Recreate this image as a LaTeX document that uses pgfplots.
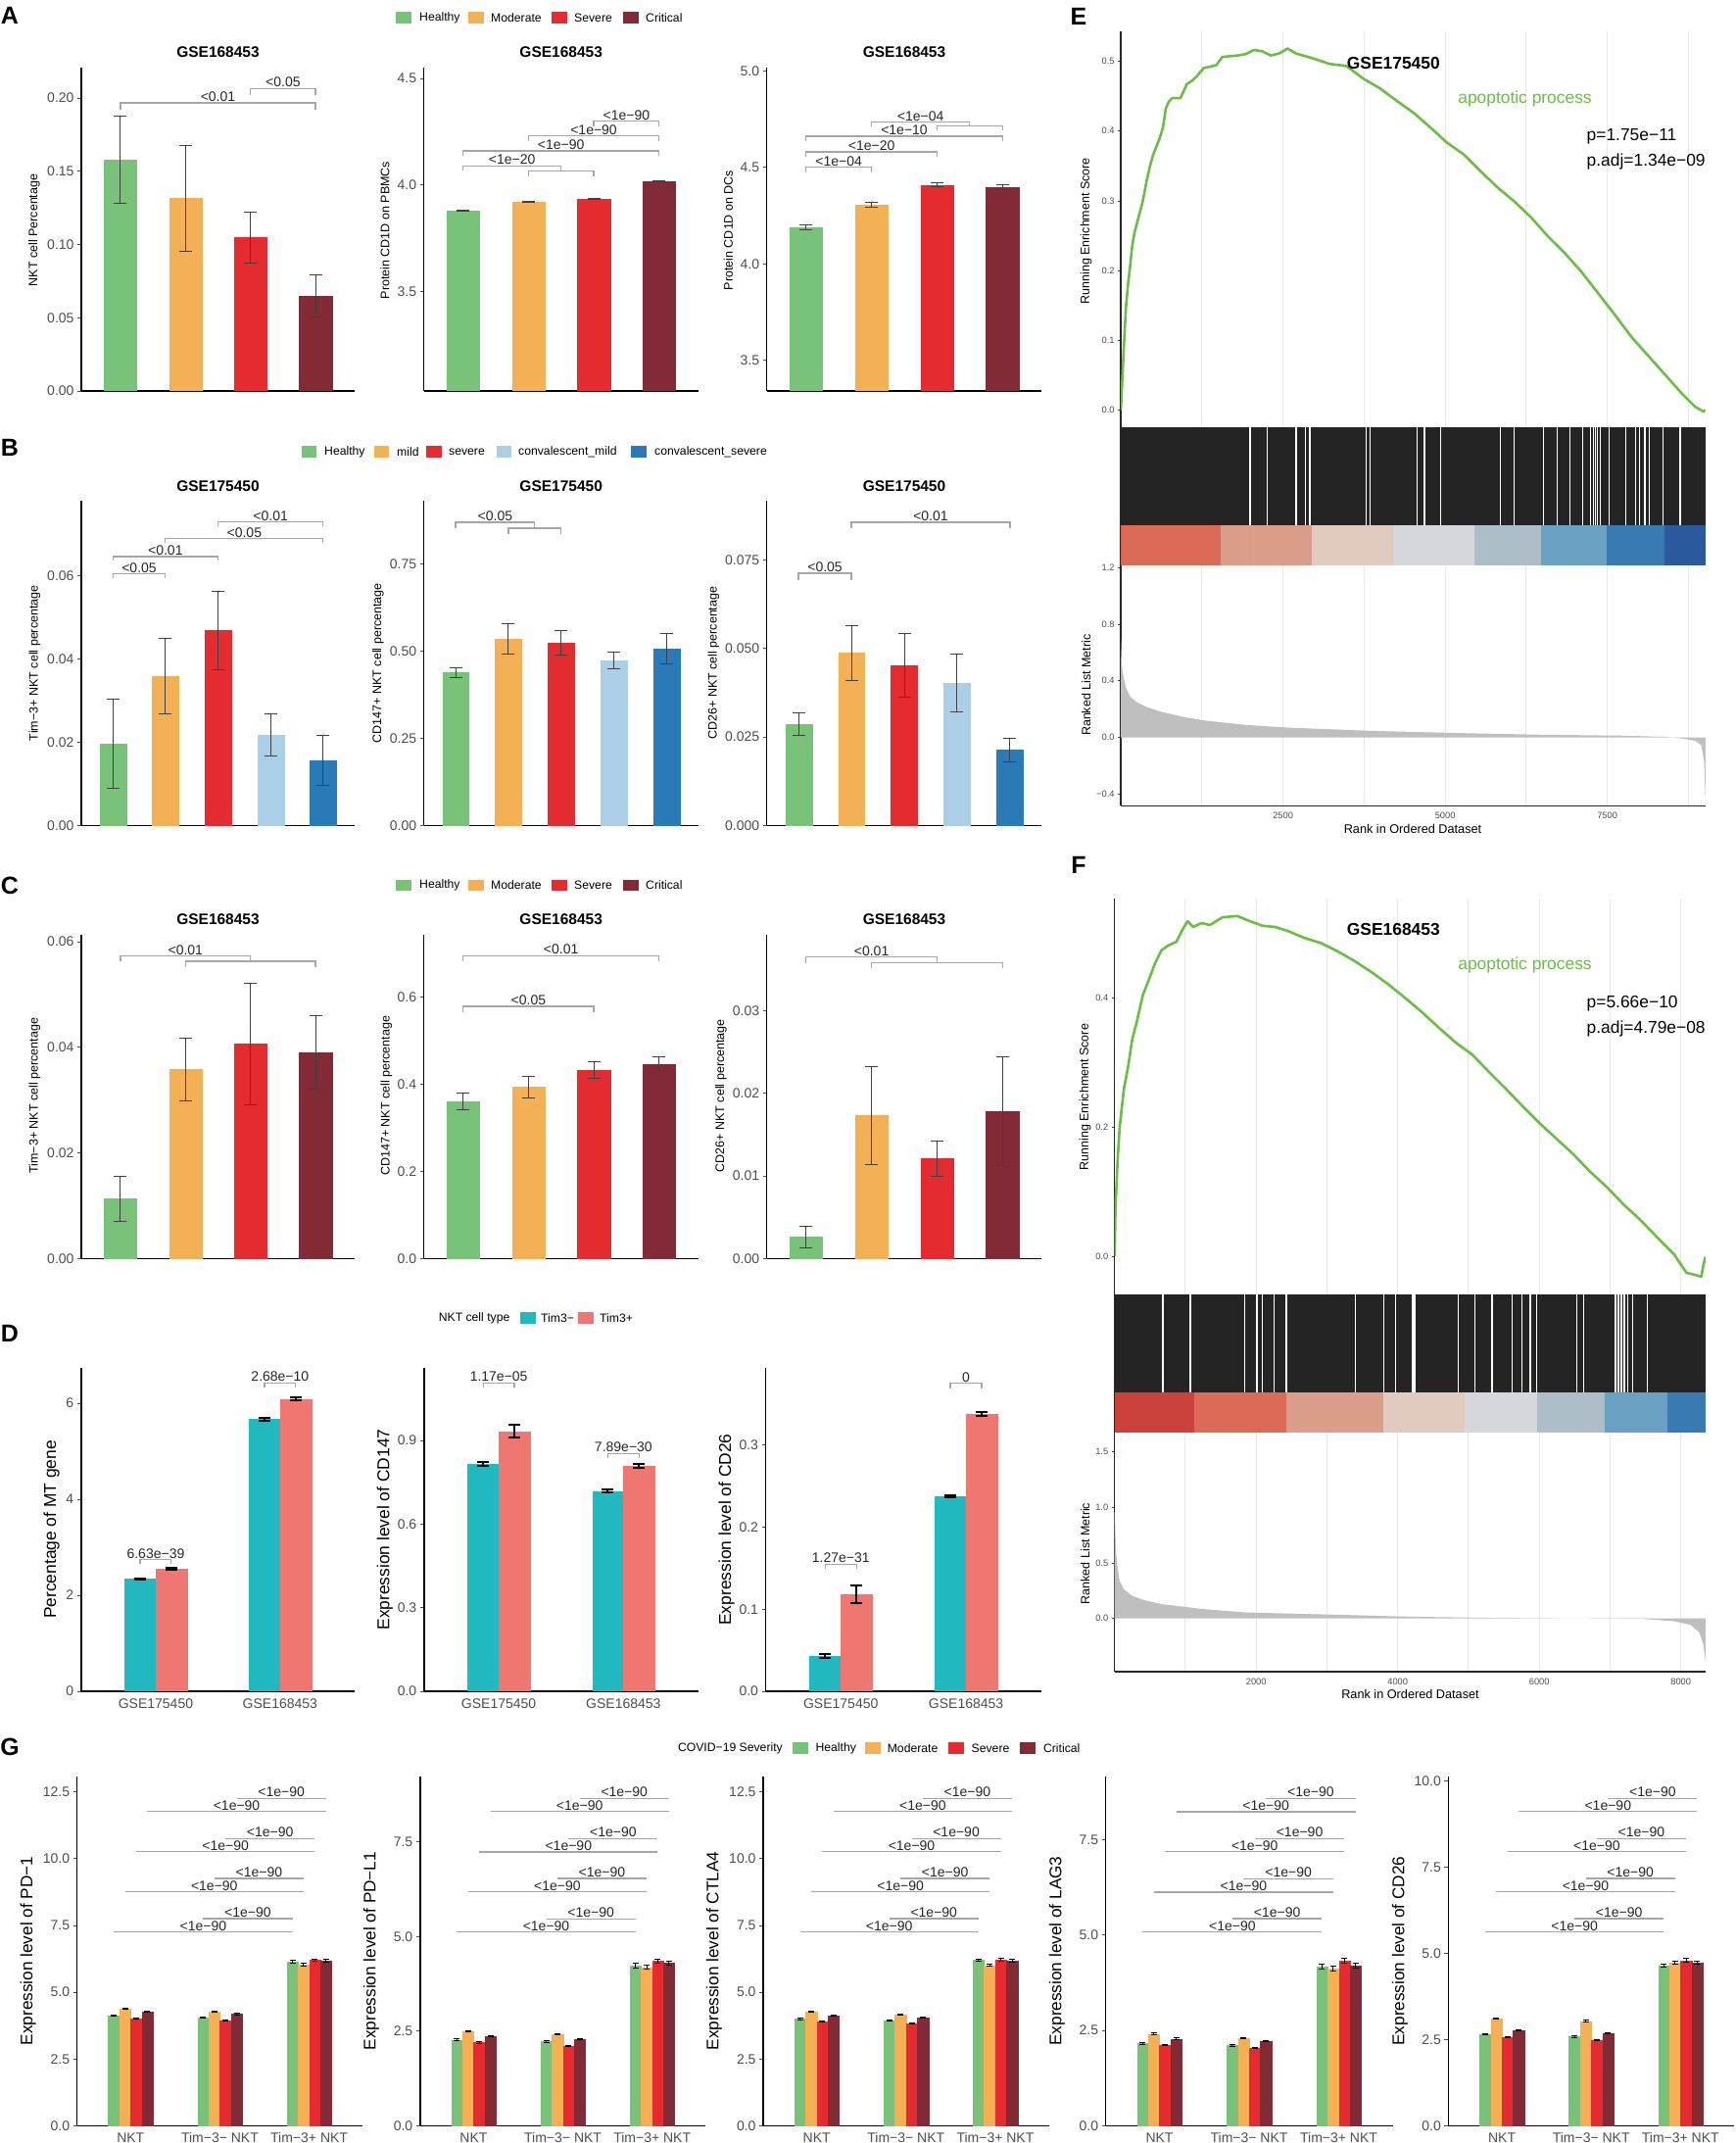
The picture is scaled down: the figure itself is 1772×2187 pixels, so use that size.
\documentclass[border=0pt]{standalone}
\usepackage{pgfplots}
\pgfplotsset{compat=1.18}
\usepackage{fontspec}
\setmainfont{Liberation Sans}
\newcommand{\fs}[1]{\fontsize{#1}{#1}\selectfont}
\definecolor{cH}{HTML}{78C279}
\definecolor{cM}{HTML}{F4B054}
\definecolor{cS}{HTML}{E32B30}
\definecolor{cC}{HTML}{832A37}
\definecolor{cCM}{HTML}{AACFE6}
\definecolor{cCS}{HTML}{2A7AB8}
\definecolor{cTm}{HTML}{22B8BF}
\definecolor{cTp}{HTML}{EE7772}
\definecolor{tickg}{HTML}{4D4D4D}
\definecolor{brkg}{HTML}{A6A6A6}
\definecolor{esg}{HTML}{6ABE45}
\definecolor{b1}{HTML}{DA6450}
\definecolor{b2}{HTML}{D99A85}
\definecolor{b3}{HTML}{E0C8BC}
\definecolor{b4}{HTML}{D2D5DB}
\definecolor{b5}{HTML}{AABBC7}
\definecolor{b6}{HTML}{649DC0}
\definecolor{b7}{HTML}{3176AD}
\definecolor{b8}{HTML}{22529A}
\definecolor{b0}{HTML}{C93A35}
\pgfplotsset{
 bx/.style={anchor=south west, scale only axis, clip mode=individual,
  axis x line*=bottom, axis y line*=left,
  axis line style={line width=1.5pt, black},
  tick label style={font=\fs{14}, text=tickg},
  tick align=outside, major tick length=4pt, scaled y ticks=false,
  ytick style={tickg, line width=0.8pt}, xtick style={draw=none},
  xtick=\empty, xmin=0.4, xmax=4.6, ymin=0,
  error bars/error bar style={line width=1pt, black!75},
  error bars/error mark options={rotate=90, line width=1pt, mark size=6.5pt, black!75}},
 gs/.style={anchor=south west, scale only axis,
  axis x line*=bottom, axis y line*=left,
  axis line style={line width=1.3pt, black!85},
  tick label style={font=\fs{9.3}, text=tickg},
  tick align=outside, major tick length=3pt, minor tick length=0pt,
  scaled y ticks=false, scaled x ticks=false,
  ytick style={tickg, line width=0.6pt}, xtick style={draw=none},
  grid style={black!9, line width=1pt}, xmajorgrids},
}
\tikzset{sig/.style={font=\fs{14}, text=black!85, anchor=base, inner sep=0pt, yshift=1.5pt}}
\newcommand{\cb}[4]{\addplot[ybar, bar width=0.5, bar shift=0pt, fill=#1, draw=#1, line width=0.1pt, error bars/.cd, y dir=both, y explicit] coordinates {(#2,#3) +- (0,#4)};}
\newcommand{\db}[4]{\addplot[ybar, bar width=0.25, bar shift=0pt, fill=#1, draw=#1, line width=0.1pt, error bars/.cd, y dir=both, y explicit, error bar style={line width=2pt, black}, error mark options={rotate=90, line width=2pt, mark size=6pt, black}] coordinates {(#2,#3) +- (0,#4)};}
\newcommand{\gb}[4]{\addplot[ybar, bar width=0.125, bar shift=0pt, fill=#1, draw=#1, line width=0.1pt, error bars/.cd, y dir=both, y explicit, error bar style={line width=1pt, black}, error mark options={rotate=90, line width=1pt, mark size=3pt, black}] coordinates {(#2,#3) +- (0,#4)};}
\newcommand{\gA}[5]{\gb{cH}{0.8125}{#1}{#5}\gb{cM}{0.9375}{#2}{#5}\gb{cS}{1.0625}{#3}{#5}\gb{cC}{1.1875}{#4}{#5}}
\newcommand{\gB}[5]{\gb{cH}{1.8125}{#1}{#5}\gb{cM}{1.9375}{#2}{#5}\gb{cS}{2.0625}{#3}{#5}\gb{cC}{2.1875}{#4}{#5}}
\newcommand{\gC}[5]{\gb{cH}{2.8125}{#1}{#5}\gb{cM}{2.9375}{#2}{#5}\gb{cS}{3.0625}{#3}{#5}\gb{cC}{3.1875}{#4}{#5}}
\newcommand{\brk}[4]{\draw[brkg, line width=1.3pt] (axis cs:#1,#4) -- (axis cs:#1,#3) -- (axis cs:#2,#3) -- (axis cs:#2,#4);}
\newcommand{\lab}[3]{\node[sig] at (axis cs:#1,#2) {#3};}
\newcommand{\sigl}[4]{\draw[brkg, line width=1.3pt] (axis cs:#1,#3) -- (axis cs:#2,#3); \node[sig] at (axis cs:#4,#3) {<1e−90};}
\newcommand{\gsig}[8]{\sigl{0.8125}{2.8125}{#1}{1.8125}\sigl{1.8125}{2.8125}{#2}{2.3125}\sigl{0.9375}{2.9375}{#3}{1.9375}\sigl{1.9375}{2.9375}{#4}{2.4375}\sigl{1.0625}{3.0625}{#5}{2.0625}\sigl{2.0625}{3.0625}{#6}{2.5625}\sigl{1.1875}{3.1875}{#7}{2.1875}\sigl{2.1875}{3.1875}{#8}{2.6875}}
\newcommand{\seg}[3]{\addplot[fill=#1, draw=none, fill opacity=0.96] coordinates {(#2,0)(#2,0.29)(#3,0.29)(#3,0)} -- cycle;}
\newcommand{\lgi}[5]{\fill[#3] (#1,#2-5.65) rectangle ++(15.7,11.3); \node[anchor=west, font=\fs{12.2}, inner sep=0pt] at (#4,#2) {#5};}
\newcommand{\yl}[4]{\node[rotate=90, font=\fs{#1}] at (#2,#3) {#4};}
\begin{document}
\begin{tikzpicture}[x=1pt,y=1pt]
\useasboundingbox (0,0) rectangle (1772,2187);
% panel letters
\node[font=\bfseries\fs{25}] at (10,2171) {A};
\node[font=\bfseries\fs{25}] at (10,1730.5) {B};
\node[font=\bfseries\fs{25}] at (10,1283) {C};
\node[font=\bfseries\fs{25}] at (10,826) {D};
\node[font=\bfseries\fs{25}] at (10,404) {G};
\node[font=\bfseries\fs{25}] at (1101,2170.5) {E};
\node[font=\bfseries\fs{25}] at (1101,1304.4) {F};
% legends
\lgi{404}{2169}{cH}{428}{Healthy}\lgi{478}{2169}{cM}{501}{Moderate}\lgi{563}{2169}{cS}{586}{Severe}\lgi{636}{2169}{cC}{659}{Critical}
\lgi{404}{1283.7}{cH}{428}{Healthy}\lgi{478}{1283.7}{cM}{501}{Moderate}\lgi{563}{1283.7}{cS}{586}{Severe}\lgi{636}{1283.7}{cC}{659}{Critical}
\lgi{307.5}{1726}{cH}{331}{Healthy}\lgi{381.6}{1726}{cM}{405}{mild}\lgi{435}{1726}{cS}{458}{severe}\lgi{506.7}{1726}{cCM}{529}{convalescent\_mild}\lgi{644.2}{1726}{cCS}{668}{convalescent\_severe}
\node[anchor=west, font=\fs{12.2}, inner sep=0pt] at (447.6,842) {NKT cell type};
\lgi{531}{842}{cTm}{552}{Tim3−}\lgi{590}{842}{cTp}{612}{Tim3+}
\node[anchor=west, font=\fs{12.2}, inner sep=0pt] at (691.8,403) {COVID−19 Severity};
\lgi{809.4}{403}{cH}{832.4}{Healthy}\lgi{882.8}{403}{cM}{905.6}{Moderate}\lgi{968}{403}{cS}{991.5}{Severe}\lgi{1041}{403}{cC}{1064.9}{Critical}
% titles
\foreach \xx in {222.5,572.7,923}{\node[font=\bfseries\fs{15.5}] at (\xx,2133.7) {GSE168453};}
\foreach \xx in {222.5,572.7,923}{\node[font=\bfseries\fs{15.5}] at (\xx,1691.3) {GSE175450};}
\foreach \xx in {222.5,572.7,923}{\node[font=\bfseries\fs{15.5}] at (\xx,1248.7) {GSE168453};}
% ===== A =====
\begin{axis}[bx, at={(83pt,1788pt)}, width=279pt, height=330pt, ymax=0.2207, ytick={0,0.05,0.1,0.15,0.2}, yticklabels={0.00,0.05,0.10,0.15,0.20}]
\cb{cH}{1}{0.1577}{0.0297}\cb{cM}{2}{0.1316}{0.036}\cb{cS}{3}{0.1048}{0.0173}\cb{cC}{4}{0.0647}{0.0144}
\brk{1}{4}{0.1967}{0.1922}\lab{2.5}{0.1967}{<0.01}
\brk{3}{4}{0.2065}{0.2022}\lab{3.5}{0.2065}{<0.05}
\end{axis}
\begin{axis}[bx, at={(432.7pt,1788pt)}, width=280pt, height=330pt, ymin=3.034, ymax=4.551, ytick={3.5,4,4.5}, yticklabels={3.5,4.0,4.5}]
\cb{cH}{1}{3.880}{0.003}\cb{cM}{2}{3.923}{0.002}\cb{cS}{3}{3.934}{0.003}\cb{cC}{4}{4.017}{0.002}
\brk{3}{4}{4.300}{4.277}\lab{3.5}{4.300}{<1e−90}
\brk{2}{4}{4.230}{4.206}\lab{3}{4.230}{<1e−90}
\brk{1}{4}{4.160}{4.137}\lab{2.5}{4.160}{<1e−90}
\brk{1}{2.5}{4.090}{4.067}\lab{1.75}{4.090}{<1e−20}
\brk{2}{3}{4.067}{4.041}
\end{axis}
\begin{axis}[bx, at={(782.7pt,1788pt)}, width=280.6pt, height=330pt, ymin=3.342, ymax=5.017, ytick={3.5,4,4.5,5}, yticklabels={3.5,4.0,4.5,5.0}]
\cb{cH}{1}{4.188}{0.013}\cb{cM}{2}{4.308}{0.012}\cb{cS}{3}{4.41}{0.012}\cb{cC}{4}{4.398}{0.011}
\brk{1}{2}{4.50}{4.474}\lab{1.5}{4.50}{<1e−04}
\brk{1}{3}{4.581}{4.555}\lab{2}{4.581}{<1e−20}
\brk{1}{4}{4.662}{4.637}\lab{2.5}{4.662}{<1e−10}
\brk{3}{4}{4.714}{4.69}
\brk{2}{3.5}{4.735}{4.714}\lab{2.75}{4.735}{<1e−04}
\end{axis}
% ===== B =====
\begin{axis}[bx, at={(83pt,1344.7pt)}, width=279pt, height=331.3pt, xmax=5.6, ymax=0.078, ytick={0,0.02,0.04,0.06}, yticklabels={0.00,0.02,0.04,0.06}]
\cb{cH}{1}{0.0197}{0.0107}\cb{cM}{2}{0.0359}{0.009}\cb{cS}{3}{0.0468}{0.0093}\cb{cCM}{4}{0.0218}{0.0051}\cb{cCS}{5}{0.0157}{0.006}
\brk{1}{2}{0.0604}{0.0594}\lab{1.5}{0.0604}{<0.05}
\brk{1}{3}{0.0646}{0.0636}\lab{2}{0.0646}{<0.01}
\brk{2}{5}{0.0689}{0.0678}\lab{3.5}{0.0689}{<0.05}
\brk{3}{5}{0.0729}{0.0718}\lab{4}{0.0729}{<0.01}
\end{axis}
\begin{axis}[bx, at={(432.7pt,1344.7pt)}, width=280pt, height=331.3pt, xmax=5.6, ymax=0.9306, ytick={0,0.25,0.5,0.75}, yticklabels={0.00,0.25,0.50,0.75}]
\cb{cH}{1}{0.438}{0.015}\cb{cM}{2}{0.535}{0.0435}\cb{cS}{3}{0.524}{0.035}\cb{cCM}{4}{0.473}{0.024}\cb{cCS}{5}{0.506}{0.044}
\brk{1}{2.5}{0.869}{0.852}\lab{1.75}{0.869}{<0.05}
\brk{2}{3}{0.852}{0.834}
\end{axis}
\begin{axis}[bx, at={(782.7pt,1344.7pt)}, width=280.6pt, height=331.3pt, xmax=5.6, ymax=0.0918, ytick={0,0.025,0.05,0.075}, yticklabels={0.000,0.025,0.050,0.075}]
\cb{cH}{1}{0.0287}{0.0032}\cb{cM}{2}{0.0488}{0.0078}\cb{cS}{3}{0.0453}{0.009}\cb{cCM}{4}{0.0402}{0.0081}\cb{cCS}{5}{0.0213}{0.0034}
\brk{1}{2}{0.0713}{0.0694}\lab{1.5}{0.0713}{<0.05}
\brk{2}{5}{0.0857}{0.0841}\lab{3.5}{0.0857}{<0.01}
\end{axis}
% ===== C =====
\begin{axis}[bx, at={(83pt,902.7pt)}, width=279pt, height=330.3pt, ymax=0.0613, ytick={0,0.02,0.04,0.06}, yticklabels={0.00,0.02,0.04,0.06}]
\cb{cH}{1}{0.0113}{0.0043}\cb{cM}{2}{0.0358}{0.006}\cb{cS}{3}{0.0406}{0.0115}\cb{cC}{4}{0.0390}{0.0069}
\brk{1}{3}{0.0573}{0.0563}\lab{2}{0.0573}{<0.01}
\brk{2}{4}{0.0563}{0.0552}
\end{axis}
\begin{axis}[bx, at={(432.7pt,902.7pt)}, width=280pt, height=330.3pt, ymax=0.742, ytick={0,0.2,0.4,0.6}, yticklabels={0.0,0.2,0.4,0.6}]
\cb{cH}{1}{0.360}{0.0195}\cb{cM}{2}{0.393}{0.0245}\cb{cS}{3}{0.432}{0.0185}\cb{cC}{4}{0.446}{0.0165}
\brk{1}{4}{0.694}{0.681}\lab{2.5}{0.694}{<0.01}
\brk{1}{3}{0.578}{0.564}\lab{2}{0.578}{<0.05}
\end{axis}
\begin{axis}[bx, at={(782.7pt,902.7pt)}, width=280.6pt, height=330.3pt, ymax=0.0392, ytick={0,0.01,0.02,0.03}, yticklabels={0.00,0.01,0.02,0.03}]
\cb{cH}{1}{0.0026}{0.0013}\cb{cM}{2}{0.0173}{0.0059}\cb{cS}{3}{0.0121}{0.0021}\cb{cC}{4}{0.0178}{0.0066}
\brk{1}{3}{0.0365}{0.0358}\lab{2}{0.0365}{<0.01}
\brk{2}{4}{0.0358}{0.0352}
\end{axis}
% ===== D =====
\begin{axis}[bx, at={(82.8pt,461pt)}, width=279.2pt, height=330pt, xmax=2.6, xtick={1,2}, xticklabels={GSE175450,GSE168453}, ymax=6.735, ytick={0,2,4,6}, yticklabels={0,2,4,6}]
\db{cTm}{0.875}{2.341}{0.01}\db{cTp}{1.125}{2.551}{0.03}\db{cTm}{1.875}{5.667}{0.03}\db{cTp}{2.125}{6.088}{0.03}
\brk{0.875}{1.125}{2.741}{2.653}\lab{1}{2.741}{6.63e−39}
\brk{1.875}{2.125}{6.422}{6.333}\lab{2}{6.422}{2.68e−10}
\end{axis}
\begin{axis}[bx, at={(432.8pt,461pt)}, width=279.9pt, height=330pt, xmax=2.6, xtick={1,2}, xticklabels={GSE175450,GSE168453}, ymax=1.160, ytick={0,0.3,0.6,0.9}, yticklabels={0.0,0.3,0.6,0.9}]
\db{cTm}{0.875}{0.816}{0.006}\db{cTp}{1.125}{0.933}{0.024}\db{cTm}{1.875}{0.718}{0.006}\db{cTp}{2.125}{0.808}{0.007}
\brk{0.875}{1.125}{1.1065}{1.091}\lab{1}{1.1065}{1.17e−05}
\brk{1.875}{2.125}{0.8534}{0.838}\lab{2}{0.8534}{7.89e−30}
\end{axis}
\begin{axis}[bx, at={(781.5pt,461pt)}, width=281.3pt, height=330pt, xmax=2.6, xtick={1,2}, xticklabels={GSE175450,GSE168453}, ymax=0.394, ytick={0,0.1,0.2,0.3}, yticklabels={0.0,0.1,0.2,0.3}]
\db{cTm}{0.875}{0.043}{0.002}\db{cTp}{1.125}{0.118}{0.0105}\db{cTm}{1.875}{0.237}{0.0012}\db{cTp}{2.125}{0.338}{0.002}
\brk{0.875}{1.125}{0.155}{0.1493}\lab{1}{0.155}{1.27e−31}
\brk{1.875}{2.125}{0.3751}{0.3695}\lab{2}{0.3751}{0}
\end{axis}
% ===== G =====
\begin{axis}[bx, at={(78.6pt,17.7pt)}, width=291.7pt, height=356.6pt, xmax=3.6, xtick={1,2,3}, xticklabels={NKT,Tim−3− NKT,Tim−3+ NKT}, ymax=13.09, ytick={0,2.5,5,7.5,10,12.5}, yticklabels={0.0,2.5,5.0,7.5,10.0,12.5}]
\gA{4.13}{4.38}{4.01}{4.26}{0.025}\gB{4.06}{4.28}{3.94}{4.18}{0.025}\gC{6.13}{6.03}{6.20}{6.18}{0.05}
\gsig{7.26}{7.76}{8.76}{9.26}{10.26}{10.76}{11.77}{12.26}
\end{axis}
\begin{axis}[bx, at={(428.8pt,17.7pt)}, width=291.6pt, height=356.6pt, xmax=3.6, xtick={1,2,3}, xticklabels={NKT,Tim−3− NKT,Tim−3+ NKT}, ymax=9.24, ytick={0,2.5,5,7.5}, yticklabels={0.0,2.5,5.0,7.5}]
\gA{2.27}{2.50}{2.20}{2.36}{0.02}\gB{2.23}{2.42}{2.11}{2.29}{0.02}\gC{4.23}{4.19}{4.35}{4.30}{0.06}
\gsig{5.12}{5.47}{6.18}{6.54}{7.24}{7.59}{8.31}{8.65}
\end{axis}
\begin{axis}[bx, at={(779pt,17.7pt)}, width=291.6pt, height=356.6pt, xmax=3.6, xtick={1,2,3}, xticklabels={NKT,Tim−3− NKT,Tim−3+ NKT}, ymax=13.09, ytick={0,2.5,5,7.5,10,12.5}, yticklabels={0.0,2.5,5.0,7.5,10.0,12.5}]
\gA{4.00}{4.26}{3.90}{4.12}{0.025}\gB{3.94}{4.17}{3.83}{4.04}{0.025}\gC{6.20}{6.01}{6.22}{6.18}{0.05}
\gsig{7.26}{7.76}{8.76}{9.26}{10.26}{10.76}{11.77}{12.26}
\end{axis}
\begin{axis}[bx, at={(1128.6pt,17.7pt)}, width=292.9pt, height=356.6pt, xmax=3.6, xtick={1,2,3}, xticklabels={NKT,Tim−3− NKT,Tim−3+ NKT}, ymax=9.17, ytick={0,2.5,5,7.5}, yticklabels={0.0,2.5,5.0,7.5}]
\gA{2.16}{2.41}{2.12}{2.28}{0.02}\gB{2.11}{2.30}{2.04}{2.22}{0.02}\gC{4.18}{4.13}{4.32}{4.20}{0.06}
\gsig{5.08}{5.43}{6.13}{6.48}{7.19}{7.53}{8.24}{8.59}
\end{axis}
\begin{axis}[bx, at={(1478.4pt,17.7pt)}, width=291.6pt, height=356.6pt, xmax=3.6, xtick={1,2,3}, xticklabels={NKT,Tim−3− NKT,Tim−3+ NKT}, ymax=10.13, ytick={0,2.5,5,7.5,10}, yticklabels={0.0,2.5,5.0,7.5,10.0}]
\gA{2.65}{3.10}{2.56}{2.76}{0.02}\gB{2.58}{3.03}{2.48}{2.68}{0.02}\gC{4.64}{4.73}{4.79}{4.72}{0.05}
\gsig{5.61}{6.00}{6.78}{7.17}{7.94}{8.32}{9.11}{9.49}
\end{axis}
% ===== E =====
\begin{axis}[gs, at={(1144.1pt,1751.4pt)}, width=596.7pt, height=403.4pt, xmin=0, xmax=9014, ymin=-0.024, ymax=0.5424, ytick={0,0.1,0.2,0.3,0.4,0.5}, yticklabels={0.0,0.1,0.2,0.3,0.4,0.5}, xtick={1250,2500,...,8750}, xticklabel={}, x axis line style={draw=none}]
\addplot[esg, line width=2.6pt, no marks, line join=round] coordinates {(0,0.000)(20,0.040)(45,0.089)(78,0.147)(110,0.180)(142,0.206)(175,0.235)(207,0.253)(240,0.265)(272,0.276)(337,0.299)(401,0.330)(450,0.350)(499,0.366)(596,0.389)(650,0.405)(693,0.432)(740,0.442)(790,0.447)(919,0.447)(1017,0.467)(1100,0.472)(1178,0.479)(1276,0.490)(1470,0.494)(1567,0.506)(1794,0.508)(1923,0.510)(2053,0.516)(2182,0.514)(2312,0.508)(2441,0.511)(2571,0.518)(2700,0.511)(2959,0.504)(3218,0.496)(3477,0.493)(3736,0.475)(3995,0.461)(4254,0.443)(4513,0.426)(4772,0.405)(5031,0.383)(5290,0.366)(5549,0.342)(5808,0.319)(6067,0.299)(6326,0.276)(6585,0.249)(6844,0.225)(7103,0.198)(7362,0.167)(7621,0.136)(7880,0.104)(8139,0.077)(8398,0.050)(8657,0.023)(8851,0.005)(8981,-0.002)(9013,0.000)};
\end{axis}
\begin{axis}[anchor=south west, scale only axis, at={(1144.1pt,1609.9pt)}, width=596.7pt, height=141.5pt, xmin=0, xmax=9014, ymin=0, ymax=1, axis x line=none, axis y line*=left, ytick=\empty, axis line style={line width=1.3pt, black!85}]
\addplot[fill=black!86, draw=none] coordinates {(0,0.29)(0,1)(9014,1)(9014,0.29)} -- cycle;
\addplot[white, line width=1.4pt, ycomb, no marks] coordinates {(1994,1)(2260,1)(2700,1)(2849,1)(2914,1)(3781,1)(3846,1)(4571,1)(4681,1)(4927,1)(5853,1)(6067,1)(6514,1)(6727,1)(6922,1)(7122,1)(7245,1)(7290,1)(7316,1)(7348,1)(7394,1)(7530,1)(7782,1)(7938,1)(7996,1)(8081,1)(8152,1)(8359,1)(8625,1)};
\seg{b1}{0}{1535}\seg{b2}{1535}{2940}\seg{b3}{2940}{4202}\seg{b4}{4202}{5458}\seg{b5}{5458}{6481}\seg{b6}{6481}{7492}\seg{b7}{7492}{8385}\seg{b8}{8385}{9014}
\end{axis}
\begin{axis}[gs, at={(1144.1pt,1364.6pt)}, width=596.7pt, height=245.3pt, xmin=0, xmax=9014, ymin=-0.484, ymax=1.2155, ytick={-0.4,0,0.4,0.8,1.2}, yticklabels={−0.4,0.0,0.4,0.8,1.2}, xtick={2500,5000,7500}, xticklabels={2500,5000,7500}, minor xtick={1250,3750,6250,8750}, xminorgrids, minor grid style={black!9, line width=1pt}]
\addplot[fill=gray!50, draw=none] coordinates {(0,0)(0,0.70)(13,0.52)(32,0.45)(78,0.35)(142,0.29)(240,0.25)(369,0.22)(628,0.18)(952,0.146)(1276,0.12)(1923,0.088)(2571,0.069)(3866,0.046)(5161,0.031)(6456,0.019)(7750,0.012)(8398,0.004)(8657,-0.008)(8851,-0.023)(8949,-0.054)(8994,-0.17)(9013,-0.41)(9013,0)} -- cycle;
\end{axis}
% ===== F =====
\begin{axis}[gs, at={(1137.7pt,866.4pt)}, width=603.1pt, height=404pt, xmin=0, xmax=8348, ymin=-0.0588, ymax=0.5547, ytick={0,0.2,0.4}, yticklabels={0.0,0.2,0.4}, xtick={1000,2000,...,8000}, xticklabel={}, x axis line style={draw=none}]
\addplot[esg, line width=2.6pt, no marks, line join=round] coordinates {(0,0)(12,0.072)(42,0.148)(71,0.199)(131,0.259)(190,0.293)(249,0.336)(309,0.361)(398,0.404)(487,0.429)(576,0.455)(664,0.474)(753,0.481)(872,0.487)(961,0.506)(1032,0.519)(1109,0.510)(1228,0.516)(1347,0.513)(1525,0.525)(1732,0.527)(1910,0.519)(2088,0.512)(2266,0.510)(2444,0.504)(2682,0.493)(2919,0.485)(3156,0.472)(3394,0.457)(3631,0.440)(3868,0.421)(4106,0.400)(4343,0.378)(4580,0.354)(4818,0.331)(5055,0.312)(5292,0.285)(5530,0.259)(5767,0.232)(6004,0.206)(6242,0.182)(6479,0.158)(6716,0.131)(6954,0.107)(7191,0.080)(7428,0.056)(7666,0.029)(7903,0.003)(8081,-0.026)(8199,-0.029)(8288,-0.032)(8318,-0.015)(8348,-0.001)};
\end{axis}
\begin{axis}[anchor=south west, scale only axis, at={(1137.7pt,725pt)}, width=603.1pt, height=141.4pt, xmin=0, xmax=8348, ymin=0, ymax=1, axis x line=none, axis y line*=left, ytick=\empty, axis line style={line width=1.3pt, black!85}]
\addplot[fill=black!86, draw=none] coordinates {(0,0.29)(0,1)(8348,1)(8348,0.29)} -- cycle;
\addplot[white, line width=1.4pt, ycomb, no marks] coordinates {(682,1)(1068,1)(1834,1)(2011,1)(2088,1)(2254,1)(2426,1)(3405,1)(3803,1)(3969,1)(4206,1)(4224,1)(4242,1)(4853,1)(5090,1)(5334,1)(5619,1)(5755,1)(5874,1)(5963,1)(6532,1)(6627,1)(7078,1)(7120,1)(7161,1)(7203,1)(7250,1)(7321,1)(7523,1)};
\seg{b0}{0}{1127}\seg{b1}{1127}{2427}\seg{b2}{2427}{3803}\seg{b3}{3803}{4948}\seg{b4}{4948}{5963}\seg{b5}{5963}{6930}\seg{b6}{6930}{7814}\seg{b7}{7814}{8348}
\end{axis}
\begin{axis}[gs, at={(1137.7pt,480.9pt)}, width=603.1pt, height=244.1pt, xmin=0, xmax=8348, ymin=-0.48, ymax=1.673, ytick={0,0.5,1,1.5}, yticklabels={0.0,0.5,1.0,1.5}, xtick={2000,4000,6000,8000}, xticklabels={2000,4000,6000,8000}, minor xtick={1000,3000,5000,7000}, xminorgrids, minor grid style={black!9, line width=1pt}]
\addplot[fill=gray!50, draw=none] coordinates {(0,0)(0,0.955)(24,0.56)(42,0.46)(71,0.337)(131,0.262)(249,0.203)(427,0.163)(664,0.129)(1258,0.084)(1851,0.054)(3038,0.035)(4224,0.015)(5411,0.005)(6597,0)(7487,-0.005)(7903,-0.025)(8140,-0.059)(8259,-0.124)(8318,-0.233)(8348,-0.381)(8348,0)} -- cycle;
\end{axis}
% GSEA text
\node[font=\bfseries\fs{17.4}] at (1422.3,2122) {GSE175450};
\node[font=\fs{17.4}, text=esg] at (1556.5,2086) {apoptotic process};
\node[font=\fs{17.4}, anchor=west, inner sep=0pt] at (1619.5,2047.2) {p=1.75e−11};
\node[font=\fs{17.4}, anchor=west, inner sep=0pt] at (1619.5,2021.6) {p.adj=1.34e−09};
\node[font=\bfseries\fs{17.4}] at (1422.3,1238.4) {GSE168453};
\node[font=\fs{17.4}, text=esg] at (1556.5,1202) {apoptotic process};
\node[font=\fs{17.4}, anchor=west, inner sep=0pt] at (1619.5,1162.7) {p=5.66e−10};
\node[font=\fs{17.4}, anchor=west, inner sep=0pt] at (1619.5,1137.4) {p.adj=4.79e−08};
\node[font=\fs{12.7}] at (1442,1340.7) {Rank in Ordered Dataset};
\node[font=\fs{12.7}] at (1439.5,458.4) {Rank in Ordered Dataset};
% y labels
\yl{12.5}{35}{1952}{NKT cell Percentage}
\yl{12.5}{392.8}{1952}{Protein CD1D on PBMCs}
\yl{12.5}{743.5}{1952}{Protein CD1D on DCs}
\yl{12.5}{35.4}{1510.3}{Tim−3+ NKT cell percentage}
\yl{12.5}{386}{1510.3}{CD147+ NKT cell percentage}
\yl{12.5}{728.3}{1510.3}{CD26+ NKT cell percentage}
\yl{12.5}{35.4}{1068.7}{Tim−3+ NKT cell percentage}
\yl{12.5}{394.5}{1068.7}{CD147+ NKT cell percentage}
\yl{12.5}{736}{1068.7}{CD26+ NKT cell percentage}
\yl{17.4}{52.6}{626}{Percentage of MT gene}
\yl{17.4}{392.8}{626}{Expression level of CD147}
\yl{17.4}{741.5}{626}{Expression level of CD26}
\yl{17.2}{28.7}{196}{Expression level of PD−1}
\yl{17.2}{378.9}{196}{Expression level of PD−L1}
\yl{17.2}{729}{196}{Expression level of CTLA4}
\yl{17.2}{1079}{196}{Expression level of LAG3}
\yl{17.2}{1428.9}{196}{Expression level of CD26}
\yl{12.5}{1108.6}{1951.2}{Running Enrichment Score}
\yl{12.5}{1108.6}{1487.8}{Ranked List Metric}
\yl{12.5}{1107.7}{1067.3}{Running Enrichment Score}
\yl{12.5}{1107.7}{601.5}{Ranked List Metric}
\end{tikzpicture}
\end{document}
